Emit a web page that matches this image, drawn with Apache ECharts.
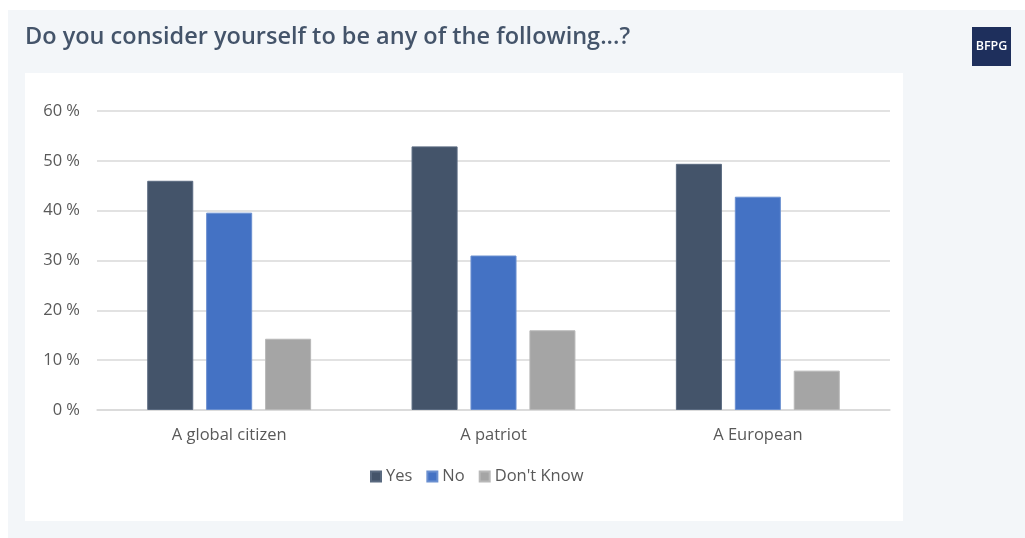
<!DOCTYPE html>
<html>
<head>
<meta charset="utf-8">
<script src="https://cdn.jsdelivr.net/npm/echarts@6/dist/echarts.min.js"></script>
<style>
html,body{margin:0;padding:0;background:#ffffff;}
#chart{width:1025px;height:538px;}
</style>
</head>
<body>
<div id="chart"></div>
<script>
var categories = ['A global citizen', 'A patriot', 'A European'];
var seriesNames = ['Yes', 'No', "Don't Know"];
var yesValues = [46.0, 52.9, 49.4];
var noValues = [39.6, 31.0, 42.8];
var dontKnowValues = [14.3, 16.0, 7.9];
var yTicks = [0, 10, 20, 30, 40, 50, 60];

var chart = echarts.init(document.getElementById('chart'));
var labelFont = '"Open Sans", "Noto Sans", sans-serif';
var option = {
  animation: false,
  backgroundColor: '#ffffff',
  graphic: [
    {type: 'rect', z: -10, shape: {x: 8, y: 10, width: 1017, height: 528}, style: {fill: '#f3f6f9'}},
    {type: 'rect', z: -9, shape: {x: 25, y: 73, width: 878, height: 448}, style: {fill: '#ffffff'}},
    {type: 'rect', z: 1, shape: {x: 972, y: 27, width: 39, height: 39}, style: {fill: '#1e2f5c'}},
    {type: 'text', z: 2, x: 991.5, y: 46.5, style: {text: 'BFPG', fill: '#ffffff', font: '600 12.5px "Open Sans", sans-serif', align: 'center', verticalAlign: 'middle'}}
  ],
  title: {
    text: 'Do you consider yourself to be any of the following...?',
    left: 20, top: 20,
    textStyle: {fontFamily: labelFont, fontSize: 23.5, fontWeight: 600, color: '#44546a'}
  },
  legend: {
    data: seriesNames,
    top: 463, left: 365,
    itemWidth: 10, itemHeight: 10, itemGap: 14,
    icon: 'rect',
    textStyle: {fontFamily: labelFont, fontSize: 16.5, color: '#595959'}
  },
  grid: {left: 97, right: 135, top: 111, bottom: 128},
  xAxis: {
    type: 'category',
    data: categories,
    axisTick: {show: false},
    axisLine: {lineStyle: {color: '#d9d9d9', width: 1.5}},
    axisLabel: {fontFamily: labelFont, fontSize: 16.5, color: '#595959', margin: 17}
  },
  yAxis: {
    type: 'value',
    min: yTicks[0], max: yTicks[yTicks.length - 1], interval: 10,
    axisLine: {show: false},
    axisTick: {show: false},
    splitLine: {lineStyle: {color: '#d9d9d9', width: 1.5}},
    axisLabel: {fontFamily: labelFont, fontSize: 16.5, color: '#595959', margin: 17, formatter: function (v) { return v + ' %'; }}
  },
  series: [
    {name: seriesNames[0], type: 'bar', data: yesValues, barGap: '28%', barCategoryGap: '38%',
     itemStyle: {color: '#44546a', borderColor: '#5a6a80', borderWidth: 1}},
    {name: seriesNames[1], type: 'bar', data: noValues,
     itemStyle: {color: '#4472c4', borderColor: '#6a8fd0', borderWidth: 1}},
    {name: seriesNames[2], type: 'bar', data: dontKnowValues,
     itemStyle: {color: '#a5a5a5', borderColor: '#b8b8b8', borderWidth: 1}}
  ]
};
chart.setOption(option);
</script>
</body>
</html>
